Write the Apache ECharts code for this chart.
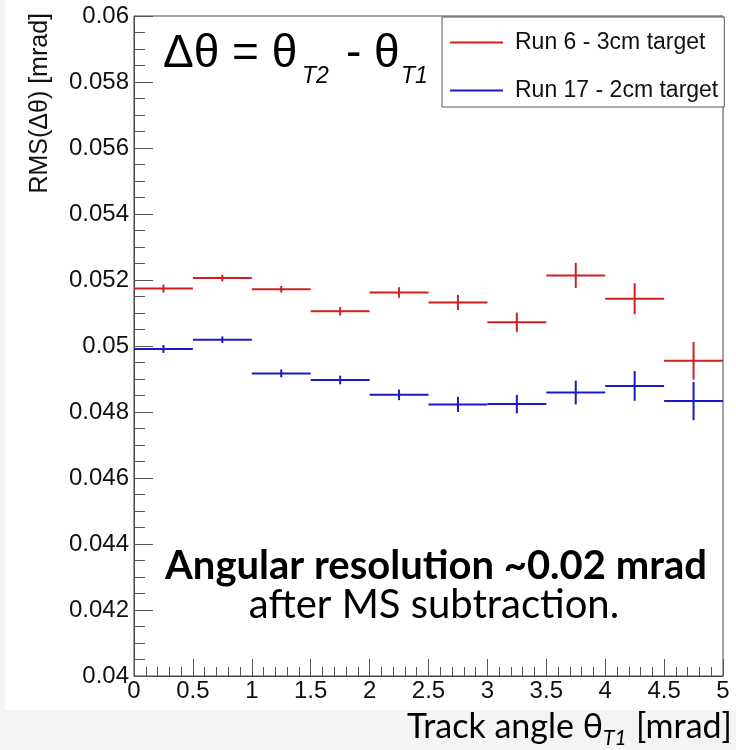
<!DOCTYPE html>
<html>
<head>
<meta charset="utf-8">
<script src="https://cdn.jsdelivr.net/npm/echarts@6/dist/echarts.min.js"></script>
<style>
html,body{margin:0;padding:0;background:#f4f4f4;}
#chart{width:736px;height:750px;}
</style>
</head>
<body>
<div id="chart"></div>
<script>
// ---- data ----
const binCenters = [0.25, 0.75, 1.25, 1.75, 2.25, 2.75, 3.25, 3.75, 4.25, 4.75];
const binWidth = 0.5;
const run6Rms  = [0.05174, 0.05206, 0.05172, 0.05105, 0.05162, 0.05132, 0.05072, 0.05214, 0.05143, 0.04955];
const run6Err  = [0.00012, 0.00010, 0.00010, 0.00013, 0.00016, 0.00023, 0.00029, 0.00038, 0.00047, 0.00057];
const run17Rms = [0.04991, 0.05019, 0.04917, 0.04897, 0.04852, 0.04823, 0.04824, 0.04859, 0.04879, 0.04833];
const run17Err = [0.00012, 0.00010, 0.00012, 0.00013, 0.00016, 0.00023, 0.00028, 0.00036, 0.00045, 0.00058];
const seriesNames = ['Run 6 - 3cm target', 'Run 17 - 2cm target'];
const xTicks = [0, 5, 0.5];          // min, max, interval
const yTicks = [0.04, 0.06, 0.002];  // min, max, interval

const chart = echarts.init(document.getElementById('chart'), null, {renderer: 'canvas'});

function build(vals, errs) {
  return binCenters.map((c, i) => [c, vals[i], errs[i], binWidth / 2]);
}

function renderItem(params, api) {
  const x = api.value(0), y = api.value(1), e = api.value(2), hw = api.value(3);
  const pL = api.coord([x - hw, y]), pR = api.coord([x + hw, y]);
  const pT = api.coord([x, y + e]), pB = api.coord([x, y - e]);
  const style = {stroke: api.visual('color'), lineWidth: 2};
  return {
    type: 'group',
    children: [
      {type: 'line', shape: {x1: pL[0], y1: pL[1], x2: pR[0], y2: pR[1]}, style: style},
      {type: 'line', shape: {x1: pT[0], y1: pT[1], x2: pB[0], y2: pB[1]}, style: style}
    ]
  };
}

const axisFont = {fontFamily: 'Liberation Sans', fontSize: 24, color: '#111'};

const option = {
  backgroundColor: '#f4f4f4',
  animation: false,
  grid: {left: 134, right: 13, top: 16, bottom: 74, show: true, borderColor: '#444', borderWidth: 1, backgroundColor: 'transparent'},
  xAxis: {
    type: 'value', min: xTicks[0], max: xTicks[1], interval: xTicks[2],
    axisLine: {lineStyle: {color: '#444', width: 1}},
    axisTick: {inside: true, length: 17, lineStyle: {color: '#555'}},
    minorTick: {show: true, splitNumber: 5, length: 9, lineStyle: {color: '#555'}},
    splitLine: {show: false},
    axisLabel: Object.assign({margin: 3, showMinLabel: true, showMaxLabel: true}, axisFont)
  },
  yAxis: {
    type: 'value', min: yTicks[0], max: yTicks[1], interval: yTicks[2],
    axisLine: {show: true, lineStyle: {color: '#444', width: 1}},
    axisTick: {show: true, inside: true, length: 19, lineStyle: {color: '#555'}},
    minorTick: {show: true, splitNumber: 4, length: 11, lineStyle: {color: '#555'}},
    splitLine: {show: false},
    axisLabel: Object.assign({margin: 5, showMinLabel: true, showMaxLabel: true}, axisFont)
  },
  legend: {
    orient: 'vertical', left: 442, top: 17,
    padding: [14, 6, 5, 8],
    itemWidth: 53, itemHeight: 2, itemGap: 25,
    backgroundColor: '#fff', borderColor: '#555', borderWidth: 1,
    textStyle: {fontFamily: 'Liberation Sans', fontSize: 23, lineHeight: 20, color: '#111', padding: [0, 0, 0, 7]},
    data: [{name: seriesNames[0], icon: 'rect'}, {name: seriesNames[1], icon: 'rect'}]
  },
  series: [
    {name: seriesNames[0], type: 'custom', renderItem: renderItem, itemStyle: {color: '#cf2020'},
     encode: {x: 0, y: 1}, data: build(run6Rms, run6Err)},
    {name: seriesNames[1], type: 'custom', renderItem: renderItem, itemStyle: {color: '#1a1ac4'},
     encode: {x: 0, y: 1}, data: build(run17Rms, run17Err)}
  ],
  graphic: [
    {type: 'rect', z: -10, silent: true, shape: {x: 5, y: 0, width: 731, height: 710}, style: {fill: '#ffffff'}},
    // y axis title
    {type: 'text', x: 40, y: 13, rotation: Math.PI / 2,
     style: {text: 'RMS(Δθ) [mrad]', fontFamily: 'Liberation Sans', fontSize: 25, fill: '#111', align: 'right', verticalAlign: 'middle'}},
    // formula
    {type: 'text', x: 163, y: 54, style: {text: 'Δθ = θ', fontFamily: 'Liberation Sans', fontSize: 46, fill: '#000', align: 'left', verticalAlign: 'middle'}},
    {type: 'text', x: 302, y: 77, style: {text: 'T2', fontFamily: 'Liberation Sans', fontStyle: 'italic', fontSize: 23, fill: '#000', align: 'left', verticalAlign: 'middle'}},
    {type: 'text', x: 346, y: 54, style: {text: '-', fontFamily: 'Liberation Sans', fontSize: 46, fill: '#000', align: 'left', verticalAlign: 'middle'}},
    {type: 'text', x: 374, y: 54, style: {text: 'θ', fontFamily: 'Liberation Sans', fontSize: 46, fill: '#000', align: 'left', verticalAlign: 'middle'}},
    {type: 'text', x: 401, y: 77, style: {text: 'T1', fontFamily: 'Liberation Sans', fontStyle: 'italic', fontSize: 23, fill: '#000', align: 'left', verticalAlign: 'middle'}},
    // annotation
    {type: 'text', x: 436, y: 566, style: {text: 'Angular resolution ~0.02 mrad', fontFamily: 'Lato', fontWeight: 'bold', fontSize: 40, fill: '#000', align: 'center', verticalAlign: 'middle'}},
    {type: 'text', x: 434, y: 605, style: {text: 'after MS subtraction.', fontFamily: 'Lato', fontSize: 40, fill: '#000', align: 'center', verticalAlign: 'middle'}},
    // x axis title
    {type: 'text', x: 603, y: 727, style: {text: 'Track angle θ', fontFamily: 'Lato', fontSize: 34, fill: '#000', align: 'right', verticalAlign: 'middle'}},
    {type: 'text', x: 603, y: 738, style: {text: 'T1', fontFamily: 'Lato', fontStyle: 'italic', fontSize: 21, fill: '#000', align: 'left', verticalAlign: 'middle'}},
    {type: 'text', x: 732, y: 727, style: {text: '[mrad]', fontFamily: 'Lato', fontSize: 34, fill: '#000', align: 'right', verticalAlign: 'middle'}}
  ]
};
chart.setOption(option);
</script>
</body>
</html>
